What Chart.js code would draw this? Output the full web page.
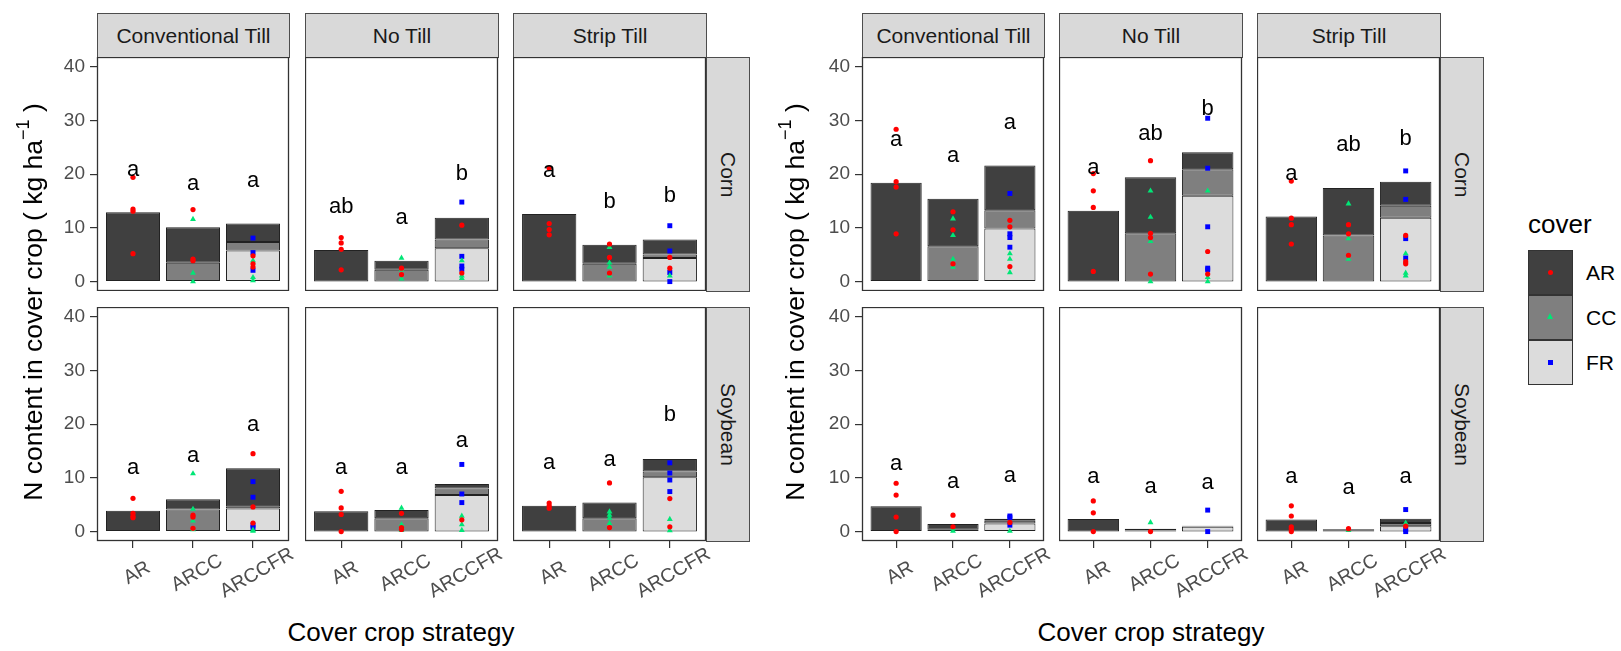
<!DOCTYPE html>
<html>
<head>
<meta charset="utf-8">
<script src="https://cdn.jsdelivr.net/npm/chart.js@4.4.1/dist/chart.umd.min.js"></script>
<style>
  body { margin: 0; width: 1621px; height: 651px; background: #fff; position: relative; overflow: hidden;
         font-family: 'Liberation Sans', Arial, sans-serif; color: #000; }
  .abs { position: absolute; }
  .strip { position: absolute; box-sizing: border-box; background: #d9d9d9; border: 1px solid #4d4d4d;
           display: flex; align-items: center; justify-content: center; font-size: 21px; color: #1a1a1a; }
  .strip.row { writing-mode: vertical-rl; }
  .ytitle { position: absolute; width: 500px; height: 30px; line-height: 30px; font-size: 26.5px;
            text-align: center; transform: rotate(-90deg); white-space: nowrap; }
  .ytitle sup { font-size: 18px; position: relative; top: -3px; line-height: 0; }
  .xtitle { position: absolute; width: 400px; height: 30px; line-height: 30px; font-size: 26px; text-align: center; }
  .key { position: absolute; box-sizing: border-box; width: 45px; height: 45px; border: 1px solid #333; }
  .klab { position: absolute; font-size: 21px; line-height: 24px; }
</style>
</head>
<body>
<script>
// ── Categories ─────────────────────────────────────────────
const tillage    = ["Conventional Till", "No Till", "Strip Till"];
const crops      = ["Corn", "Soybean"];
const strategies = ["AR", "ARCC", "ARCCFR"];
const covers     = ["AR", "CC", "FR"];
const yTicks     = [0, 10, 20, 30, 40];

// ── Left figure: mean N by cover component [crop][tillage][strategy] ──
const leftMeanAR = [
  [[12.9, 6.6, 3.45], [5.9, 1.7, 4.05], [12.6, 3.55, 2.8]],
  [[3.9, 1.9, 7.1],   [3.8, 1.5, 0.85], [4.8, 2.9, 2.3]],
];
const leftMeanCC = [
  [[null, 3.5, 1.55], [null, 2.2, 1.65], [null, 3.3, 0.65]],
  [[null, 4.1, 0.4],  [null, 2.5, 1.2],  [null, 2.5, 1.1]],
];
const leftMeanFR = [
  [[null, null, 5.8], [null, null, 6.2], [null, null, 4.4]],
  [[null, null, 4.3], [null, null, 6.8], [null, null, 10.1]],
];
// observations [crop][tillage][strategy] -> values
const leftPtsAR = [
  [[[19.4, 13.5, 13.1, 5.2], [13.4, 4.2, 3.9], [4.8, 3.3, 2.7]],
   [[8.2, 7.2, 6.0, 2.2], [2.5, 1.3], [10.5, 1.6]],
   [[21.1, 10.8, 9.7, 8.7], [7.0, 4.5, 1.6], [4.5, 2.5]]],
  [[[6.2, 3.4, 2.9, 2.6], [3.05, 2.7, 0.6], [14.5, 4.6, 1.6]],
   [[7.5, 4.4, 3.2, 0], [3.4, 0.75, 0.4], [2.2]],
   [[5.3, 4.8, 4.35], [9.05, 0.75], [6.15, 0.9]]],
];
const leftPtsCC = [
  [[[], [11.6, 1.6, 0.0], [3.9, 0.8, 0.2]],
   [[], [4.4, 2.2, 0.5], [3.9, 1.1, 0.6]],
   [[], [6.4, 3.5, 2.7, 1.1], [1.1]]],
  [[[], [10.8, 4.2, 2.0, 0.4], [0.1, 0.3]],
   [[], [4.4, 1.3, 0.25], [2.9, 1.3, 0.25]],
   [[], [3.7, 3.1, 2.5, 1.55], [2.3, 0.2]]],
];
const leftPtsFR = [
  [[[], [], [8.1, 5.4, 2.1]], [[], [], [14.8, 4.7, 2.9, 2.3]], [[], [], [10.4, 5.7, 1.7, 0]]],
  [[[], [], [9.3, 6.4, 1.2, 0.75]], [[], [], [12.5, 7.0, 5.4]], [[], [], [12.8, 10.9, 9.6, 7.45]]],
];
const leftLetters = [
  [["a", "a", "a"], ["ab", "a", "b"], ["a", "b", "b"]],
  [["a", "a", "a"], ["a", "a", "a"], ["a", "a", "b"]],
];
const leftLetterY = [
  [[20.7, 18.1, 18.8], [13.9, 11.9, 20.1], [20.6, 14.9, 15.9]],
  [[11.8, 14.0, 19.9], [11.8, 11.8, 16.8], [12.7, 13.3, 21.8]],
];

// ── Right figure ───────────────────────────────────────────
const rightMeanAR = [
  [[18.4, 8.8, 8.3], [13.2, 10.4, 3.15], [12.1, 8.8, 4.5]],
  [[4.7, 1.05, 0.4], [2.35, 0.35, 0.1], [2.25, 0.3, 0.8]],
];
const rightMeanCC = [
  [[null, 6.6, 3.4], [null, 9.0, 4.9], [null, 8.6, 2.2]],
  [[null, 0.35, 0.5], [null, 0.2, 0.1], [null, 0.15, 0.6]],
];
const rightMeanFR = [
  [[null, null, 9.9], [null, null, 16.0], [null, null, 11.9]],
  [[null, null, 1.5], [null, null, 0.9], [null, null, 1.0]],
];
const rightPtsAR = [
  [[[28.35, 18.6, 17.6, 8.9], [13.0, 9.65, 3.3], [11.4, 10.2, 2.8]],
   [[20.1, 16.9, 13.8, 1.9], [22.5, 9.0, 8.2, 1.4], [5.6, 1.4]],
   [[18.7, 11.8, 10.6, 7.0], [10.6, 8.9, 4.9], [8.6, 3.7, 3.3]]],
  [[[9.0, 6.8, 2.7, 0], [3.05, 0.9], [1.7]],
   [[5.7, 3.5, 0], [0], []],
   [[4.8, 2.9, 0.9, 0.5, 0], [0.55], [1.0]]],
];
const rightPtsCC = [
  [[[], [11.7, 8.6, 4.2, 2.7], [5.2, 4.2, 1.7]],
   [[], [16.9, 12.0, 7.5, 0], [16.9, 0.8, 0]],
   [[], [14.5, 8.0, 4.2], [5.2, 1.6, 1.1]]],
  [[[], [0.55, 0.1], [0.1]],
   [[], [1.7], []],
   [[], [0.25], [1.6]]],
];
const rightPtsFR = [
  [[[], [], [16.4, 8.9, 8.2, 6.4]], [[], [], [30.4, 21.1, 10.2, 2.5, 2.2]], [[], [], [20.6, 15.3, 8.0, 4.4]]],
  [[[], [], [2.9, 2.6, 1.2]], [[], [], [4.0, 0]], [[], [], [4.1, 0.4, 0]]],
];
const rightLetters = [
  [["a", "a", "a"], ["a", "ab", "b"], ["a", "ab", "b"]],
  [["a", "a", "a"], ["a", "a", "a"], ["a", "a", "a"]],
];
const rightLetterY = [
  [[26.4, 23.4, 29.5], [21.1, 27.4, 32.1], [20.0, 25.4, 26.5]],
  [[12.6, 9.3, 10.3], [10.2, 8.35, 9.0], [10.1, 8.2, 10.2]],
];

// ── Styling / layout ───────────────────────────────────────
const FONT     = "'Liberation Sans', Arial, sans-serif";
const fillCol  = { AR: "#404040", CC: "#7f7f7f", FR: "#dcdcdc" };
const ptCol    = { AR: "#ff0000", CC: "#00e676", FR: "#0000ff" };
const ptStyle  = { AR: "circle", CC: "triangle", FR: "rect" };
const ptRad    = { AR: 2.6, CC: 3.4, FR: 3.5 };
const Y_MIN = -1.75, Y_MAX = 41.8;
const AXW = 75, AXH = 70, PADR = 40;
const rowsY = [[57, 291], [307, 541]];

const figs = [
  { cols: [[97, 289], [305, 498], [513, 706]], yTitleX: 33, xTitleX: 401,
    means: [leftMeanAR, leftMeanCC, leftMeanFR], pts: [leftPtsAR, leftPtsCC, leftPtsFR],
    letters: leftLetters, letterY: leftLetterY },
  { cols: [[862, 1044], [1059, 1242], [1257, 1440]], yTitleX: 795, xTitleX: 1151,
    means: [rightMeanAR, rightMeanCC, rightMeanFR], pts: [rightPtsAR, rightPtsCC, rightPtsFR],
    letters: rightLetters, letterY: rightLetterY },
];

function el(cls, css, html) {
  const d = document.createElement("div");
  d.className = cls;
  d.style.cssText = css;
  d.innerHTML = html;
  document.body.appendChild(d);
  return d;
}

function buildFacet(fig, ci, ti) {
  const [l, r] = fig.cols[ti];
  const [t, b] = rowsY[ci];
  const showY = ti === 0;
  const showX = ci === crops.length - 1;
  const left = showY ? l - AXW : l;
  const w = r - left + PADR, h = b - t + (showX ? AXH : 0);

  const cv = document.createElement("canvas");
  cv.width = w; cv.height = h;
  cv.style.cssText = `position:absolute;left:${left}px;top:${t}px;width:${w}px;height:${h}px`;
  document.body.appendChild(cv);

  const datasets = [];
  // stacked bars from the bottom: FR, CC, AR
  const base = strategies.map(() => 0);
  [2, 1, 0].forEach(k => {
    const data = [];
    strategies.forEach((s, si) => {
      const v = fig.means[k][ci][ti][si];
      if (v == null) return;
      data.push({ x: si + 1, y: [base[si], base[si] + v] });
      base[si] += v;
    });
    datasets.push({
      type: "bar", label: covers[k], data, order: 2,
      backgroundColor: fillCol[covers[k]], borderColor: "#222", borderWidth: 1,
      borderSkipped: false, grouped: false, barPercentage: 0.9, categoryPercentage: 1,
    });
  });
  covers.forEach((c, k) => {
    const data = [];
    strategies.forEach((s, si) => fig.pts[k][ci][ti][si].forEach(v => data.push({ x: si + 1, y: v })));
    datasets.push({
      type: "scatter", label: c, data, order: k === 0 ? 0 : 1,
      pointStyle: ptStyle[c], pointRadius: ptRad[c], backgroundColor: ptCol[c], borderWidth: 0,
    });
  });

  const letters = fig.letters[ci][ti], letterY = fig.letterY[ci][ti];
  const facetPlugin = {
    id: "facet",
    afterDatasetsDraw(chart) {
      const { ctx, chartArea: a, scales: { x, y } } = chart;
      ctx.save();
      // significance letters
      ctx.font = "22px " + FONT;
      ctx.fillStyle = "#000";
      ctx.textAlign = "center";
      ctx.textBaseline = "middle";
      letters.forEach((lt, si) => ctx.fillText(lt, x.getPixelForValue(si + 1), y.getPixelForValue(letterY[si])));
      // panel border
      ctx.strokeStyle = "#333";
      ctx.lineWidth = 1.3;
      ctx.strokeRect(a.left + 0.5, a.top + 0.5, a.width - 1, a.height - 1);
      // rotated x tick labels
      if (showX) {
        ctx.font = "19.5px " + FONT;
        ctx.fillStyle = "#4d4d4d";
        strategies.forEach((s, si) => {
          ctx.save();
          ctx.translate(x.getPixelForValue(si + 1) + 4, a.bottom + 32);
          ctx.rotate(-Math.PI / 6);
          ctx.fillText(s, 0, 0);
          ctx.restore();
        });
      }
      ctx.restore();
    },
  };

  new Chart(cv, {
    type: "bar",
    data: { datasets },
    options: {
      responsive: false, animation: false, events: [], devicePixelRatio: 1,
      layout: { padding: { left: 0, top: 0, bottom: 0, right: PADR }, autoPadding: false },
      plugins: { legend: { display: false }, tooltip: { enabled: false } },
      scales: {
        x: {
          type: "linear", min: 0.4, max: 3.6, offset: false, display: showX,
          afterBuildTicks: s => { s.ticks = strategies.map((_, i) => ({ value: i + 1 })); },
          afterFit: s => { s.height = showX ? AXH : 0; },
          ticks: { display: false },
          grid: { offset: false, drawOnChartArea: false, drawTicks: true, tickLength: 7, color: "#333", lineWidth: 1.2 },
          border: { display: false },
        },
        y: {
          type: "linear", min: Y_MIN, max: Y_MAX, display: showY,
          afterBuildTicks: s => { s.ticks = yTicks.map(v => ({ value: v })); },
          afterFit: s => { s.width = showY ? AXW : 0; s.paddingTop = 0; s.paddingBottom = 0; },
          ticks: { color: "#4d4d4d", font: { family: FONT, size: 19 }, padding: 5 },
          grid: { drawOnChartArea: false, tickLength: 7, color: "#333", lineWidth: 1.2 },
          border: { display: false },
        },
      },
    },
    plugins: [facetPlugin],
  });
}

// ── Build both figures ─────────────────────────────────────
figs.forEach(fig => {
  tillage.forEach((name, ti) => {
    const [l, r] = fig.cols[ti];
    el("strip", `left:${l}px;top:13px;width:${r - l + 1}px;height:45px`, name);
  });
  crops.forEach((name, ci) => {
    const [t, b] = rowsY[ci];
    const r = fig.cols[2][1];
    el("strip row", `left:${r}px;top:${t}px;width:44px;height:${b - t + 1}px`, name);
  });
  crops.forEach((_, ci) => tillage.forEach((_, ti) => buildFacet(fig, ci, ti)));
  el("ytitle", `left:${fig.yTitleX - 250}px;top:${302 - 15}px`, "N content in cover crop ( kg ha<sup>\u22121</sup> )");
  el("xtitle", `left:${fig.xTitleX - 200}px;top:617px`, "Cover crop strategy");
});

// ── Legend ─────────────────────────────────────────────────
el("abs", "left:1528px;top:209px;font-size:26px;line-height:30px", "cover");
covers.forEach((c, k) => {
  const top = 250 + k * 45;
  const key = el("key", `left:1528px;top:${top}px;background:${fillCol[c]}`, "");
  let mark;
  if (c === "AR") mark = `left:19px;top:19px;width:5px;height:5px;border-radius:50%;background:${ptCol[c]}`;
  else if (c === "CC") mark = `left:18px;top:17px;width:0;height:0;border-left:3.5px solid transparent;border-right:3.5px solid transparent;border-bottom:6px solid ${ptCol[c]}`;
  else mark = `left:19px;top:19px;width:5px;height:5px;background:${ptCol[c]}`;
  const m = document.createElement("div");
  m.style.cssText = "position:absolute;" + mark;
  key.appendChild(m);
  el("klab", `left:1586px;top:${top + 11}px`, c);
});
</script>
</body>
</html>
